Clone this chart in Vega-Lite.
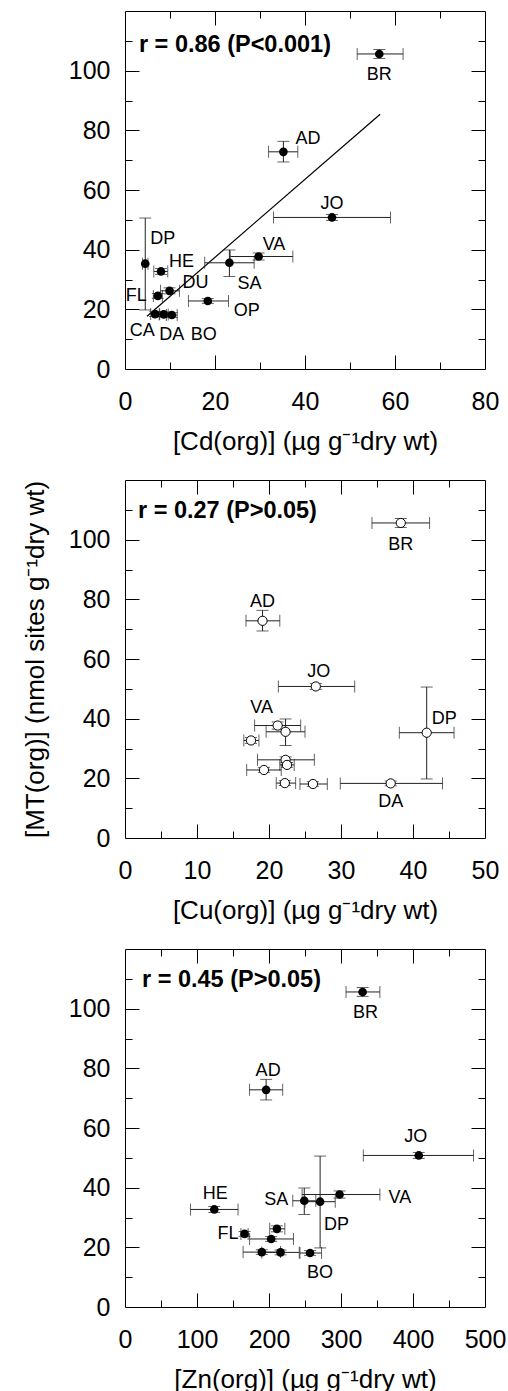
{
  "$schema": "https://vega.github.io/schema/vega-lite/v6.json",
  "padding": {"left": 21, "top": 10, "right": 0, "bottom": 0},
  "background": "white",
  "datasets": {
    "sites": [
      {"site":"BR","MT":105.6,"MT_lo":104.1,"MT_hi":107.1,"Cd":56.5,"Cd_lo":51.6,"Cd_hi":61.8,"Cu":38.3,"Cu_lo":34.3,"Cu_hi":42.3,"Zn":330,"Zn_lo":307,"Zn_hi":354},
      {"site":"AD","MT":72.8,"MT_lo":69.4,"MT_hi":76.3,"Cd":35.2,"Cd_lo":31.9,"Cd_hi":38.4,"Cu":19.1,"Cu_lo":16.8,"Cu_hi":21.5,"Zn":196,"Zn_lo":173,"Zn_hi":219},
      {"site":"JO","MT":50.8,"MT_lo":49.8,"MT_hi":51.8,"Cd":46.0,"Cd_lo":33.0,"Cd_hi":59.0,"Cu":26.5,"Cu_lo":21.3,"Cu_hi":31.9,"Zn":408,"Zn_lo":331,"Zn_hi":484},
      {"site":"VA","MT":37.7,"MT_lo":36.5,"MT_hi":38.9,"Cd":29.7,"Cd_lo":23.4,"Cd_hi":37.3,"Cu":21.2,"Cu_lo":18.0,"Cu_hi":24.4,"Zn":298,"Zn_lo":246,"Zn_hi":354},
      {"site":"SA","MT":35.6,"MT_lo":31.0,"MT_hi":39.9,"Cd":23.2,"Cd_lo":17.7,"Cd_hi":28.7,"Cu":22.3,"Cu_lo":19.6,"Cu_hi":25.0,"Zn":249,"Zn_lo":233,"Zn_hi":265},
      {"site":"DP","MT":35.3,"MT_lo":19.8,"MT_hi":50.6,"Cd":4.5,"Cd_lo":3.9,"Cd_hi":5.1,"Cu":41.9,"Cu_lo":38.1,"Cu_hi":45.7,"Zn":271,"Zn_lo":250,"Zn_hi":292},
      {"site":"HE","MT":32.7,"MT_lo":31.7,"MT_hi":33.7,"Cd":8.0,"Cd_lo":6.4,"Cd_hi":9.5,"Cu":17.5,"Cu_lo":16.5,"Cu_hi":18.6,"Zn":124,"Zn_lo":91,"Zn_hi":157},
      {"site":"DU","MT":26.2,"MT_lo":25.2,"MT_hi":27.2,"Cd":9.9,"Cd_lo":7.9,"Cd_hi":12.1,"Cu":22.3,"Cu_lo":18.4,"Cu_hi":26.3,"Zn":211,"Zn_lo":201,"Zn_hi":222},
      {"site":"FL","MT":24.5,"MT_lo":23.7,"MT_hi":25.3,"Cd":7.3,"Cd_lo":6.3,"Cd_hi":8.3,"Cu":22.5,"Cu_lo":21.5,"Cu_hi":23.5,"Zn":166,"Zn_lo":161,"Zn_hi":171},
      {"site":"OP","MT":22.8,"MT_lo":22.0,"MT_hi":23.6,"Cd":18.4,"Cd_lo":14.1,"Cd_hi":23.0,"Cu":19.3,"Cu_lo":16.9,"Cu_hi":21.7,"Zn":203,"Zn_lo":173,"Zn_hi":234},
      {"site":"CA","MT":18.4,"MT_lo":17.6,"MT_hi":19.2,"Cd":6.7,"Cd_lo":5.7,"Cd_hi":7.7,"Cu":22.2,"Cu_lo":21.0,"Cu_hi":23.7,"Zn":190,"Zn_lo":164,"Zn_hi":216},
      {"site":"DA","MT":18.3,"MT_lo":17.5,"MT_hi":19.1,"Cd":8.6,"Cd_lo":7.6,"Cd_hi":9.6,"Cu":36.9,"Cu_lo":29.9,"Cu_hi":44.1,"Zn":216,"Zn_lo":190,"Zn_hi":242},
      {"site":"BO","MT":18.1,"MT_lo":17.3,"MT_hi":18.9,"Cd":10.4,"Cd_lo":9.2,"Cd_hi":11.6,"Cu":26.1,"Cu_lo":24.3,"Cu_hi":28.1,"Zn":257,"Zn_lo":243,"Zn_hi":273}
    ],
    "fit": [
      {"Cd": 4.9, "MT": 17.7},
      {"Cd": 56.7, "MT": 85.4}
    ]
  },
  "spacing": 24,
  "vconcat": [
    {
      "width": 360, "height": 358,
      "data": {"name": "sites"},
      "resolve": {"axis": {"x": "independent", "y": "independent"}},
      "layer": [
        {"mark": {"type": "point", "opacity": 0},
         "encoding": {
           "x": {"field": "Cd", "type": "quantitative", "scale": {"domain": [0, 80], "nice": false, "zero": false},
                 "axis": {"orient": "bottom", "values": [0, 20, 40, 60, 80], "ticks": false, "labelPadding": 20, "labelFlush": false, "labelOverlap": false, "title": "[Cd(org)] (µg g⁻¹dry wt)", "titlePadding": 14}},
           "y": {"field": "MT", "type": "quantitative", "scale": {"domain": [0, 120], "nice": false, "zero": false},
                 "axis": {"orient": "left", "values": [0, 20, 40, 60, 80, 100], "ticks": false, "labelPadding": 15, "labelOverlap": false, "title": null}}}},
        {"mark": {"type": "point", "opacity": 0},
         "encoding": {
           "x": {"field": "Cd", "type": "quantitative",
                 "axis": {"orient": "bottom", "values": [20, 40, 60], "labels": false, "title": null, "tickSize": 14, "offset": -14}},
           "y": {"field": "MT", "type": "quantitative",
                 "axis": {"orient": "left", "values": [20, 40, 60, 80, 100], "labels": false, "title": null, "tickSize": 14, "offset": -14}}}},
        {"mark": {"type": "point", "opacity": 0},
         "encoding": {
           "x": {"field": "Cd", "type": "quantitative",
                 "axis": {"orient": "bottom", "values": [10, 30, 50, 70], "labels": false, "title": null, "tickSize": 7, "offset": -7}},
           "y": {"field": "MT", "type": "quantitative",
                 "axis": {"orient": "left", "values": [10, 30, 50, 70, 90, 110], "labels": false, "title": null, "tickSize": 7, "offset": -7}}}},
        {"mark": {"type": "point", "opacity": 0},
         "encoding": {
           "x": {"field": "Cd", "type": "quantitative",
                 "axis": {"orient": "top", "values": [20, 40, 60], "labels": false, "title": null, "tickSize": 14, "offset": -14}},
           "y": {"field": "MT", "type": "quantitative",
                 "axis": {"orient": "right", "values": [20, 40, 60, 80, 100], "labels": false, "title": null, "tickSize": 14, "offset": -14}}}},
        {"mark": {"type": "point", "opacity": 0},
         "encoding": {
           "x": {"field": "Cd", "type": "quantitative",
                 "axis": {"orient": "top", "values": [10, 30, 50, 70], "labels": false, "title": null, "tickSize": 7, "offset": -7}},
           "y": {"field": "MT", "type": "quantitative",
                 "axis": {"orient": "right", "values": [10, 30, 50, 70, 90, 110], "labels": false, "title": null, "tickSize": 7, "offset": -7}}}},
        {"data": {"name": "fit"},
         "mark": {"type": "line", "color": "black", "strokeWidth": 1.2},
         "encoding": {"x": {"field": "Cd", "type": "quantitative", "axis": null}, "y": {"field": "MT", "type": "quantitative", "axis": null}}},
        {"mark": {"type": "rule", "color": "#222", "strokeWidth": 1},
         "encoding": {"x": {"field": "Cd_lo", "type": "quantitative", "axis": null}, "x2": {"field": "Cd_hi"}, "y": {"field": "MT", "type": "quantitative", "axis": null}}},
        {"mark": {"type": "rule", "color": "#222", "strokeWidth": 1},
         "encoding": {"x": {"field": "Cd", "type": "quantitative", "axis": null}, "y": {"field": "MT_lo", "type": "quantitative", "axis": null}, "y2": {"field": "MT_hi"}}},
        {"mark": {"type": "tick", "orient": "vertical", "size": 12, "thickness": 1, "color": "#222"},
         "encoding": {"x": {"field": "Cd_lo", "type": "quantitative", "axis": null}, "y": {"field": "MT", "type": "quantitative", "axis": null}}},
        {"mark": {"type": "tick", "orient": "vertical", "size": 12, "thickness": 1, "color": "#222"},
         "encoding": {"x": {"field": "Cd_hi", "type": "quantitative", "axis": null}, "y": {"field": "MT", "type": "quantitative", "axis": null}}},
        {"mark": {"type": "tick", "orient": "horizontal", "size": 12, "thickness": 1, "color": "#222"},
         "encoding": {"x": {"field": "Cd", "type": "quantitative", "axis": null}, "y": {"field": "MT_lo", "type": "quantitative", "axis": null}}},
        {"mark": {"type": "tick", "orient": "horizontal", "size": 12, "thickness": 1, "color": "#222"},
         "encoding": {"x": {"field": "Cd", "type": "quantitative", "axis": null}, "y": {"field": "MT_hi", "type": "quantitative", "axis": null}}},
        {"mark": {"type": "circle", "size": 75, "color": "black", "opacity": 1},
         "encoding": {"x": {"field": "Cd", "type": "quantitative", "axis": null}, "y": {"field": "MT", "type": "quantitative", "axis": null}}},
        {"data": {"values": [{"note": "r = 0.86 (P<0.001)"}]},
         "mark": {"type": "text", "align": "left", "baseline": "middle", "font": "Liberation Sans", "fontSize": 23.5, "fontWeight": "bold", "color": "black"},
         "encoding": {"x": {"datum": 3.1, "type": "quantitative", "axis": null}, "y": {"datum": 108.7, "type": "quantitative", "axis": null}, "text": {"field": "note"}}},
        {"transform": [{"filter": "datum.site === 'BR'"}], "mark": {"type": "text", "align": "center", "dx": 0, "dy": 21, "font": "Liberation Sans", "fontSize": 18, "color": "black"},
         "encoding": {"x": {"field": "Cd", "type": "quantitative", "axis": null}, "y": {"field": "MT", "type": "quantitative", "axis": null}, "text": {"field": "site"}}},
        {"transform": [{"filter": "datum.site === 'AD'"}], "mark": {"type": "text", "align": "left", "dx": 12, "dy": -13, "font": "Liberation Sans", "fontSize": 18, "color": "black"},
         "encoding": {"x": {"field": "Cd", "type": "quantitative", "axis": null}, "y": {"field": "MT", "type": "quantitative", "axis": null}, "text": {"field": "site"}}},
        {"transform": [{"filter": "datum.site === 'JO'"}], "mark": {"type": "text", "align": "center", "dx": 0, "dy": -13, "font": "Liberation Sans", "fontSize": 18, "color": "black"},
         "encoding": {"x": {"field": "Cd", "type": "quantitative", "axis": null}, "y": {"field": "MT", "type": "quantitative", "axis": null}, "text": {"field": "site"}}},
        {"transform": [{"filter": "datum.site === 'DP'"}], "mark": {"type": "text", "align": "left", "dx": 5, "dy": -25, "font": "Liberation Sans", "fontSize": 18, "color": "black"},
         "encoding": {"x": {"field": "Cd", "type": "quantitative", "axis": null}, "y": {"field": "MT", "type": "quantitative", "axis": null}, "text": {"field": "site"}}},
        {"transform": [{"filter": "datum.site === 'HE'"}], "mark": {"type": "text", "align": "left", "dx": 8, "dy": -9, "font": "Liberation Sans", "fontSize": 18, "color": "black"},
         "encoding": {"x": {"field": "Cd", "type": "quantitative", "axis": null}, "y": {"field": "MT", "type": "quantitative", "axis": null}, "text": {"field": "site"}}},
        {"transform": [{"filter": "datum.site === 'VA'"}], "mark": {"type": "text", "align": "left", "dx": 4, "dy": -12, "font": "Liberation Sans", "fontSize": 18, "color": "black"},
         "encoding": {"x": {"field": "Cd", "type": "quantitative", "axis": null}, "y": {"field": "MT", "type": "quantitative", "axis": null}, "text": {"field": "site"}}},
        {"transform": [{"filter": "datum.site === 'SA'"}], "mark": {"type": "text", "align": "left", "dx": 8, "dy": 21, "font": "Liberation Sans", "fontSize": 18, "color": "black"},
         "encoding": {"x": {"field": "Cd", "type": "quantitative", "axis": null}, "y": {"field": "MT", "type": "quantitative", "axis": null}, "text": {"field": "site"}}},
        {"transform": [{"filter": "datum.site === 'DU'"}], "mark": {"type": "text", "align": "left", "dx": 13, "dy": -8, "font": "Liberation Sans", "fontSize": 18, "color": "black"},
         "encoding": {"x": {"field": "Cd", "type": "quantitative", "axis": null}, "y": {"field": "MT", "type": "quantitative", "axis": null}, "text": {"field": "site"}}},
        {"transform": [{"filter": "datum.site === 'FL'"}], "mark": {"type": "text", "align": "right", "dx": -11, "dy": 0, "font": "Liberation Sans", "fontSize": 18, "color": "black"},
         "encoding": {"x": {"field": "Cd", "type": "quantitative", "axis": null}, "y": {"field": "MT", "type": "quantitative", "axis": null}, "text": {"field": "site"}}},
        {"transform": [{"filter": "datum.site === 'OP'"}], "mark": {"type": "text", "align": "left", "dx": 26, "dy": 10, "font": "Liberation Sans", "fontSize": 18, "color": "black"},
         "encoding": {"x": {"field": "Cd", "type": "quantitative", "axis": null}, "y": {"field": "MT", "type": "quantitative", "axis": null}, "text": {"field": "site"}}},
        {"transform": [{"filter": "datum.site === 'CA'"}], "mark": {"type": "text", "align": "center", "dx": -13, "dy": 17, "font": "Liberation Sans", "fontSize": 18, "color": "black"},
         "encoding": {"x": {"field": "Cd", "type": "quantitative", "axis": null}, "y": {"field": "MT", "type": "quantitative", "axis": null}, "text": {"field": "site"}}},
        {"transform": [{"filter": "datum.site === 'DA'"}], "mark": {"type": "text", "align": "center", "dx": 8, "dy": 21, "font": "Liberation Sans", "fontSize": 18, "color": "black"},
         "encoding": {"x": {"field": "Cd", "type": "quantitative", "axis": null}, "y": {"field": "MT", "type": "quantitative", "axis": null}, "text": {"field": "site"}}},
        {"transform": [{"filter": "datum.site === 'BO'"}], "mark": {"type": "text", "align": "center", "dx": 32, "dy": 20, "font": "Liberation Sans", "fontSize": 18, "color": "black"},
         "encoding": {"x": {"field": "Cd", "type": "quantitative", "axis": null}, "y": {"field": "MT", "type": "quantitative", "axis": null}, "text": {"field": "site"}}}
      ]
    },
    {
      "width": 360, "height": 358,
      "data": {"name": "sites"},
      "resolve": {"axis": {"x": "independent", "y": "independent"}},
      "layer": [
        {"mark": {"type": "point", "opacity": 0},
         "encoding": {
           "x": {"field": "Cu", "type": "quantitative", "scale": {"domain": [0, 50], "nice": false, "zero": false},
                 "axis": {"orient": "bottom", "values": [0, 10, 20, 30, 40, 50], "ticks": false, "labelPadding": 20, "labelFlush": false, "labelOverlap": false, "title": "[Cu(org)] (µg g⁻¹dry wt)", "titlePadding": 14}},
           "y": {"field": "MT", "type": "quantitative", "scale": {"domain": [0, 120], "nice": false, "zero": false},
                 "axis": {"orient": "left", "values": [0, 20, 40, 60, 80, 100], "ticks": false, "labelPadding": 15, "labelOverlap": false, "title": "[MT(org)] (nmol sites g⁻¹dry wt)", "titlePadding": 20}}}},
        {"mark": {"type": "point", "opacity": 0},
         "encoding": {
           "x": {"field": "Cu", "type": "quantitative",
                 "axis": {"orient": "bottom", "values": [10, 20, 30, 40], "labels": false, "title": null, "tickSize": 14, "offset": -14}},
           "y": {"field": "MT", "type": "quantitative",
                 "axis": {"orient": "left", "values": [20, 40, 60, 80, 100], "labels": false, "title": null, "tickSize": 14, "offset": -14}}}},
        {"mark": {"type": "point", "opacity": 0},
         "encoding": {
           "x": {"field": "Cu", "type": "quantitative",
                 "axis": {"orient": "bottom", "values": [5, 15, 25, 35, 45], "labels": false, "title": null, "tickSize": 7, "offset": -7}},
           "y": {"field": "MT", "type": "quantitative",
                 "axis": {"orient": "left", "values": [10, 30, 50, 70, 90, 110], "labels": false, "title": null, "tickSize": 7, "offset": -7}}}},
        {"mark": {"type": "point", "opacity": 0},
         "encoding": {
           "x": {"field": "Cu", "type": "quantitative",
                 "axis": {"orient": "top", "values": [10, 20, 30, 40], "labels": false, "title": null, "tickSize": 14, "offset": -14}},
           "y": {"field": "MT", "type": "quantitative",
                 "axis": {"orient": "right", "values": [20, 40, 60, 80, 100], "labels": false, "title": null, "tickSize": 14, "offset": -14}}}},
        {"mark": {"type": "point", "opacity": 0},
         "encoding": {
           "x": {"field": "Cu", "type": "quantitative",
                 "axis": {"orient": "top", "values": [5, 15, 25, 35, 45], "labels": false, "title": null, "tickSize": 7, "offset": -7}},
           "y": {"field": "MT", "type": "quantitative",
                 "axis": {"orient": "right", "values": [10, 30, 50, 70, 90, 110], "labels": false, "title": null, "tickSize": 7, "offset": -7}}}},
        {"mark": {"type": "rule", "color": "#222", "strokeWidth": 1},
         "encoding": {"x": {"field": "Cu_lo", "type": "quantitative", "axis": null}, "x2": {"field": "Cu_hi"}, "y": {"field": "MT", "type": "quantitative", "axis": null}}},
        {"mark": {"type": "rule", "color": "#222", "strokeWidth": 1},
         "encoding": {"x": {"field": "Cu", "type": "quantitative", "axis": null}, "y": {"field": "MT_lo", "type": "quantitative", "axis": null}, "y2": {"field": "MT_hi"}}},
        {"mark": {"type": "tick", "orient": "vertical", "size": 12, "thickness": 1, "color": "#222"},
         "encoding": {"x": {"field": "Cu_lo", "type": "quantitative", "axis": null}, "y": {"field": "MT", "type": "quantitative", "axis": null}}},
        {"mark": {"type": "tick", "orient": "vertical", "size": 12, "thickness": 1, "color": "#222"},
         "encoding": {"x": {"field": "Cu_hi", "type": "quantitative", "axis": null}, "y": {"field": "MT", "type": "quantitative", "axis": null}}},
        {"mark": {"type": "tick", "orient": "horizontal", "size": 12, "thickness": 1, "color": "#222"},
         "encoding": {"x": {"field": "Cu", "type": "quantitative", "axis": null}, "y": {"field": "MT_lo", "type": "quantitative", "axis": null}}},
        {"mark": {"type": "tick", "orient": "horizontal", "size": 12, "thickness": 1, "color": "#222"},
         "encoding": {"x": {"field": "Cu", "type": "quantitative", "axis": null}, "y": {"field": "MT_hi", "type": "quantitative", "axis": null}}},
        {"mark": {"type": "point", "shape": "circle", "size": 85, "filled": true, "fill": "white", "stroke": "black", "strokeWidth": 1, "opacity": 1},
         "encoding": {"x": {"field": "Cu", "type": "quantitative", "axis": null}, "y": {"field": "MT", "type": "quantitative", "axis": null}}},
        {"data": {"values": [{"note": "r = 0.27 (P>0.05)"}]},
         "mark": {"type": "text", "align": "left", "baseline": "middle", "font": "Liberation Sans", "fontSize": 23.5, "fontWeight": "bold", "color": "black"},
         "encoding": {"x": {"datum": 1.8, "type": "quantitative", "axis": null}, "y": {"datum": 109.6, "type": "quantitative", "axis": null}, "text": {"field": "note"}}},
        {"transform": [{"filter": "datum.site === 'BR'"}], "mark": {"type": "text", "align": "center", "dx": 0, "dy": 22, "font": "Liberation Sans", "fontSize": 18, "color": "black"},
         "encoding": {"x": {"field": "Cu", "type": "quantitative", "axis": null}, "y": {"field": "MT", "type": "quantitative", "axis": null}, "text": {"field": "site"}}},
        {"transform": [{"filter": "datum.site === 'AD'"}], "mark": {"type": "text", "align": "center", "dx": 0, "dy": -19, "font": "Liberation Sans", "fontSize": 18, "color": "black"},
         "encoding": {"x": {"field": "Cu", "type": "quantitative", "axis": null}, "y": {"field": "MT", "type": "quantitative", "axis": null}, "text": {"field": "site"}}},
        {"transform": [{"filter": "datum.site === 'JO'"}], "mark": {"type": "text", "align": "center", "dx": 3, "dy": -14, "font": "Liberation Sans", "fontSize": 18, "color": "black"},
         "encoding": {"x": {"field": "Cu", "type": "quantitative", "axis": null}, "y": {"field": "MT", "type": "quantitative", "axis": null}, "text": {"field": "site"}}},
        {"transform": [{"filter": "datum.site === 'VA'"}], "mark": {"type": "text", "align": "center", "dx": -16, "dy": -18, "font": "Liberation Sans", "fontSize": 18, "color": "black"},
         "encoding": {"x": {"field": "Cu", "type": "quantitative", "axis": null}, "y": {"field": "MT", "type": "quantitative", "axis": null}, "text": {"field": "site"}}},
        {"transform": [{"filter": "datum.site === 'DP'"}], "mark": {"type": "text", "align": "left", "dx": 5, "dy": -14, "font": "Liberation Sans", "fontSize": 18, "color": "black"},
         "encoding": {"x": {"field": "Cu", "type": "quantitative", "axis": null}, "y": {"field": "MT", "type": "quantitative", "axis": null}, "text": {"field": "site"}}},
        {"transform": [{"filter": "datum.site === 'DA'"}], "mark": {"type": "text", "align": "center", "dx": 0, "dy": 19, "font": "Liberation Sans", "fontSize": 18, "color": "black"},
         "encoding": {"x": {"field": "Cu", "type": "quantitative", "axis": null}, "y": {"field": "MT", "type": "quantitative", "axis": null}, "text": {"field": "site"}}}
      ]
    },
    {
      "width": 360, "height": 358,
      "data": {"name": "sites"},
      "resolve": {"axis": {"x": "independent", "y": "independent"}},
      "layer": [
        {"mark": {"type": "point", "opacity": 0},
         "encoding": {
           "x": {"field": "Zn", "type": "quantitative", "scale": {"domain": [0, 500], "nice": false, "zero": false},
                 "axis": {"orient": "bottom", "values": [0, 100, 200, 300, 400, 500], "ticks": false, "labelPadding": 20, "labelFlush": false, "labelOverlap": false, "title": "[Zn(org)] (µg g⁻¹dry wt)", "titlePadding": 14}},
           "y": {"field": "MT", "type": "quantitative", "scale": {"domain": [0, 120], "nice": false, "zero": false},
                 "axis": {"orient": "left", "values": [0, 20, 40, 60, 80, 100], "ticks": false, "labelPadding": 15, "labelOverlap": false, "title": null}}}},
        {"mark": {"type": "point", "opacity": 0},
         "encoding": {
           "x": {"field": "Zn", "type": "quantitative",
                 "axis": {"orient": "bottom", "values": [100, 200, 300, 400], "labels": false, "title": null, "tickSize": 14, "offset": -14}},
           "y": {"field": "MT", "type": "quantitative",
                 "axis": {"orient": "left", "values": [20, 40, 60, 80, 100], "labels": false, "title": null, "tickSize": 14, "offset": -14}}}},
        {"mark": {"type": "point", "opacity": 0},
         "encoding": {
           "x": {"field": "Zn", "type": "quantitative",
                 "axis": {"orient": "bottom", "values": [50, 150, 250, 350, 450], "labels": false, "title": null, "tickSize": 7, "offset": -7}},
           "y": {"field": "MT", "type": "quantitative",
                 "axis": {"orient": "left", "values": [10, 30, 50, 70, 90, 110], "labels": false, "title": null, "tickSize": 7, "offset": -7}}}},
        {"mark": {"type": "point", "opacity": 0},
         "encoding": {
           "x": {"field": "Zn", "type": "quantitative",
                 "axis": {"orient": "top", "values": [100, 200, 300, 400], "labels": false, "title": null, "tickSize": 14, "offset": -14}},
           "y": {"field": "MT", "type": "quantitative",
                 "axis": {"orient": "right", "values": [20, 40, 60, 80, 100], "labels": false, "title": null, "tickSize": 14, "offset": -14}}}},
        {"mark": {"type": "point", "opacity": 0},
         "encoding": {
           "x": {"field": "Zn", "type": "quantitative",
                 "axis": {"orient": "top", "values": [50, 150, 250, 350, 450], "labels": false, "title": null, "tickSize": 7, "offset": -7}},
           "y": {"field": "MT", "type": "quantitative",
                 "axis": {"orient": "right", "values": [10, 30, 50, 70, 90, 110], "labels": false, "title": null, "tickSize": 7, "offset": -7}}}},
        {"mark": {"type": "rule", "color": "#222", "strokeWidth": 1},
         "encoding": {"x": {"field": "Zn_lo", "type": "quantitative", "axis": null}, "x2": {"field": "Zn_hi"}, "y": {"field": "MT", "type": "quantitative", "axis": null}}},
        {"mark": {"type": "rule", "color": "#222", "strokeWidth": 1},
         "encoding": {"x": {"field": "Zn", "type": "quantitative", "axis": null}, "y": {"field": "MT_lo", "type": "quantitative", "axis": null}, "y2": {"field": "MT_hi"}}},
        {"mark": {"type": "tick", "orient": "vertical", "size": 12, "thickness": 1, "color": "#222"},
         "encoding": {"x": {"field": "Zn_lo", "type": "quantitative", "axis": null}, "y": {"field": "MT", "type": "quantitative", "axis": null}}},
        {"mark": {"type": "tick", "orient": "vertical", "size": 12, "thickness": 1, "color": "#222"},
         "encoding": {"x": {"field": "Zn_hi", "type": "quantitative", "axis": null}, "y": {"field": "MT", "type": "quantitative", "axis": null}}},
        {"mark": {"type": "tick", "orient": "horizontal", "size": 12, "thickness": 1, "color": "#222"},
         "encoding": {"x": {"field": "Zn", "type": "quantitative", "axis": null}, "y": {"field": "MT_lo", "type": "quantitative", "axis": null}}},
        {"mark": {"type": "tick", "orient": "horizontal", "size": 12, "thickness": 1, "color": "#222"},
         "encoding": {"x": {"field": "Zn", "type": "quantitative", "axis": null}, "y": {"field": "MT_hi", "type": "quantitative", "axis": null}}},
        {"mark": {"type": "circle", "size": 75, "color": "black", "opacity": 1},
         "encoding": {"x": {"field": "Zn", "type": "quantitative", "axis": null}, "y": {"field": "MT", "type": "quantitative", "axis": null}}},
        {"data": {"values": [{"note": "r = 0.45 (P>0.05)"}]},
         "mark": {"type": "text", "align": "left", "baseline": "middle", "font": "Liberation Sans", "fontSize": 23.5, "fontWeight": "bold", "color": "black"},
         "encoding": {"x": {"datum": 23.6, "type": "quantitative", "axis": null}, "y": {"datum": 109.5, "type": "quantitative", "axis": null}, "text": {"field": "note"}}},
        {"transform": [{"filter": "datum.site === 'BR'"}], "mark": {"type": "text", "align": "center", "dx": 3, "dy": 21, "font": "Liberation Sans", "fontSize": 18, "color": "black"},
         "encoding": {"x": {"field": "Zn", "type": "quantitative", "axis": null}, "y": {"field": "MT", "type": "quantitative", "axis": null}, "text": {"field": "site"}}},
        {"transform": [{"filter": "datum.site === 'AD'"}], "mark": {"type": "text", "align": "center", "dx": 2, "dy": -19, "font": "Liberation Sans", "fontSize": 18, "color": "black"},
         "encoding": {"x": {"field": "Zn", "type": "quantitative", "axis": null}, "y": {"field": "MT", "type": "quantitative", "axis": null}, "text": {"field": "site"}}},
        {"transform": [{"filter": "datum.site === 'JO'"}], "mark": {"type": "text", "align": "center", "dx": -3, "dy": -18, "font": "Liberation Sans", "fontSize": 18, "color": "black"},
         "encoding": {"x": {"field": "Zn", "type": "quantitative", "axis": null}, "y": {"field": "MT", "type": "quantitative", "axis": null}, "text": {"field": "site"}}},
        {"transform": [{"filter": "datum.site === 'VA'"}], "mark": {"type": "text", "align": "left", "dx": 49, "dy": 3, "font": "Liberation Sans", "fontSize": 18, "color": "black"},
         "encoding": {"x": {"field": "Zn", "type": "quantitative", "axis": null}, "y": {"field": "MT", "type": "quantitative", "axis": null}, "text": {"field": "site"}}},
        {"transform": [{"filter": "datum.site === 'SA'"}], "mark": {"type": "text", "align": "right", "dx": -16, "dy": -1, "font": "Liberation Sans", "fontSize": 18, "color": "black"},
         "encoding": {"x": {"field": "Zn", "type": "quantitative", "axis": null}, "y": {"field": "MT", "type": "quantitative", "axis": null}, "text": {"field": "site"}}},
        {"transform": [{"filter": "datum.site === 'DP'"}], "mark": {"type": "text", "align": "left", "dx": 4, "dy": 23, "font": "Liberation Sans", "fontSize": 18, "color": "black"},
         "encoding": {"x": {"field": "Zn", "type": "quantitative", "axis": null}, "y": {"field": "MT", "type": "quantitative", "axis": null}, "text": {"field": "site"}}},
        {"transform": [{"filter": "datum.site === 'HE'"}], "mark": {"type": "text", "align": "center", "dx": 1, "dy": -15, "font": "Liberation Sans", "fontSize": 18, "color": "black"},
         "encoding": {"x": {"field": "Zn", "type": "quantitative", "axis": null}, "y": {"field": "MT", "type": "quantitative", "axis": null}, "text": {"field": "site"}}},
        {"transform": [{"filter": "datum.site === 'FL'"}], "mark": {"type": "text", "align": "right", "dx": -6, "dy": 0, "font": "Liberation Sans", "fontSize": 18, "color": "black"},
         "encoding": {"x": {"field": "Zn", "type": "quantitative", "axis": null}, "y": {"field": "MT", "type": "quantitative", "axis": null}, "text": {"field": "site"}}},
        {"transform": [{"filter": "datum.site === 'BO'"}], "mark": {"type": "text", "align": "center", "dx": 10, "dy": 20, "font": "Liberation Sans", "fontSize": 18, "color": "black"},
         "encoding": {"x": {"field": "Zn", "type": "quantitative", "axis": null}, "y": {"field": "MT", "type": "quantitative", "axis": null}, "text": {"field": "site"}}}
      ]
    }
  ],
  "config": {
    "view": {"stroke": "black", "strokeWidth": 1},
    "axis": {
      "grid": false, "domain": false,
      "labelFont": "Liberation Sans", "labelFontSize": 25, "labelColor": "black",
      "titleFont": "Liberation Sans", "titleFontSize": 26, "titleFontWeight": "normal", "titleColor": "black",
      "tickColor": "black", "tickWidth": 1
    }
  }
}
